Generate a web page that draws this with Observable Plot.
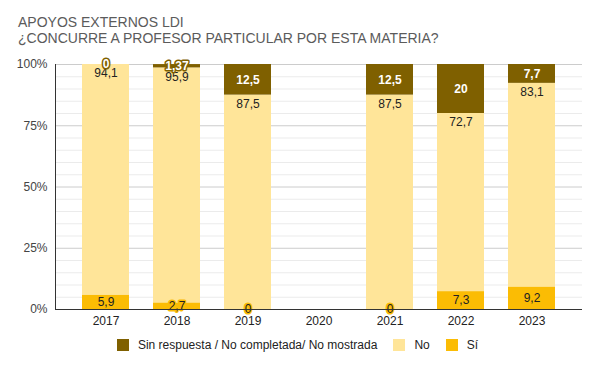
<!DOCTYPE html>
<html>
<head>
<meta charset="utf-8">
<script src="https://cdn.jsdelivr.net/npm/d3@7"></script>
<script src="https://cdn.jsdelivr.net/npm/@observablehq/plot@0.6"></script>
<style>
  html, body { margin: 0; padding: 0; background: #fff; }
  body { width: 595px; height: 366px; overflow: hidden; font-family: "Liberation Sans", Arial, sans-serif; }
  #title { height: 52px; box-sizing: border-box; padding: 14px 0 0 18px; font-size: 14px; line-height: 16px; color: #5b5b5b; }
  #legend { height: 30px; box-sizing: border-box; padding: 0; display: flex; justify-content: center; align-items: center; font-size: 12px; color: #222; }
  .item { display: flex; align-items: center; margin: 0 8px; }
  .sw { width: 12px; height: 12px; margin-right: 9px; }
  svg { display: block; }
</style>
</head>
<body>
<div id="title"><div>APOYOS EXTERNOS LDI</div><div>¿CONCURRE A PROFESOR PARTICULAR POR ESTA MATERIA?</div></div>
<div id="chart"></div>
<div id="legend"></div>
<script>
const years = ["2017", "2018", "2019", "2020", "2021", "2022", "2023"];
const siValues = [5.9, 2.7, 0, null, 0, 7.3, 9.2];
const noValues = [94.1, 95.9, 87.5, null, 87.5, 72.7, 83.1];
const sinValues = [0, 1.37, 12.5, null, 12.5, 20, 7.7];
const seriesNames = ["Sin respuesta / No completada/ No mostrada", "No", "Sí"];
const seriesColors = ["#7f6000", "#ffe599", "#fbbc04"];
const yTicks = [0, 25, 50, 75, 100];
const yMinor = [5, 10, 15, 20, 30, 35, 40, 45, 55, 60, 65, 70, 80, 85, 90, 95];

const fmt = v => String(v).replace(".", ",");

const rows = [];
const labels = [];
years.forEach((year, i) => {
  if (siValues[i] == null) return;
  const si = siValues[i], no = noValues[i], sin = sinValues[i];
  rows.push({year, series: seriesNames[2], value: si});
  rows.push({year, series: seriesNames[1], value: no});
  rows.push({year, series: seriesNames[0], value: sin});
  labels.push({year, kind: "si", y: si / 2, text: fmt(si), small: si < 5});
  labels.push({year, kind: "no", y: si + no, text: fmt(no), small: false});
  labels.push({year, kind: "sin", y: si + no + sin / 2, text: fmt(sin), small: sin < 5});
});

const chart = Plot.plot({
  width: 595,
  height: 278,
  marginTop: 12,
  marginBottom: 21,
  marginLeft: 55,
  marginRight: 13,
  style: {fontFamily: '"Liberation Sans", Arial, sans-serif', fontSize: "12px", color: "#222", background: "#fff"},
  x: {domain: years, paddingInner: 0.34, paddingOuter: 0.37, label: null, tickSize: 0, tickPadding: 7},
  y: {domain: [0, 100], ticks: yTicks, tickFormat: d => d + "%", label: null, tickSize: 0, tickPadding: 8},
  color: {domain: seriesNames, range: seriesColors},
  marks: [
    Plot.ruleY(yMinor, {stroke: "#ebebeb"}),
    Plot.ruleY(yTicks.filter(d => d > 0), {stroke: "#cccccc"}),
    Plot.barY(rows, Plot.stackY({x: "year", y: "value", fill: "series", order: [seriesNames[2], seriesNames[1], seriesNames[0]]})),
    Plot.text(labels.filter(d => d.kind === "no"), {x: "year", y: "y", text: "text", dy: 9, fill: "#222", fontSize: 12}),
    Plot.text(labels.filter(d => d.kind === "si" && !d.small), {x: "year", y: "y", text: "text", fill: "#222", fontSize: 12}),
    Plot.text(labels.filter(d => d.kind === "si" && d.small), {x: "year", y: "y", text: "text", fill: "#222", stroke: "#fbbc04", strokeWidth: 3, fontSize: 12}),
    Plot.text(labels.filter(d => d.kind === "sin" && !d.small), {x: "year", y: "y", text: "text", fill: "#fff", fontWeight: "bold", fontSize: 12}),
    Plot.text(labels.filter(d => d.kind === "sin" && d.small), {x: "year", y: "y", text: "text", fill: "#fff", stroke: "#7f6000", strokeWidth: 3, fontWeight: "bold", fontSize: 12}),
    Plot.ruleY([0], {stroke: "#333"}),
    Plot.axisY({ticks: yTicks, tickFormat: d => d + "%", tickSize: 0, tickPadding: 8, fill: "#444", fontSize: 12}),
    Plot.frame({anchor: "left", stroke: "#333"})
  ]
});
document.getElementById("chart").appendChild(chart);

const legend = document.getElementById("legend");
seriesNames.forEach((name, i) => {
  const item = document.createElement("div");
  item.className = "item";
  const sw = document.createElement("div");
  sw.className = "sw";
  sw.style.background = seriesColors[i];
  const label = document.createElement("span");
  label.textContent = name;
  item.appendChild(sw);
  item.appendChild(label);
  legend.appendChild(item);
});
</script>
</body>
</html>
